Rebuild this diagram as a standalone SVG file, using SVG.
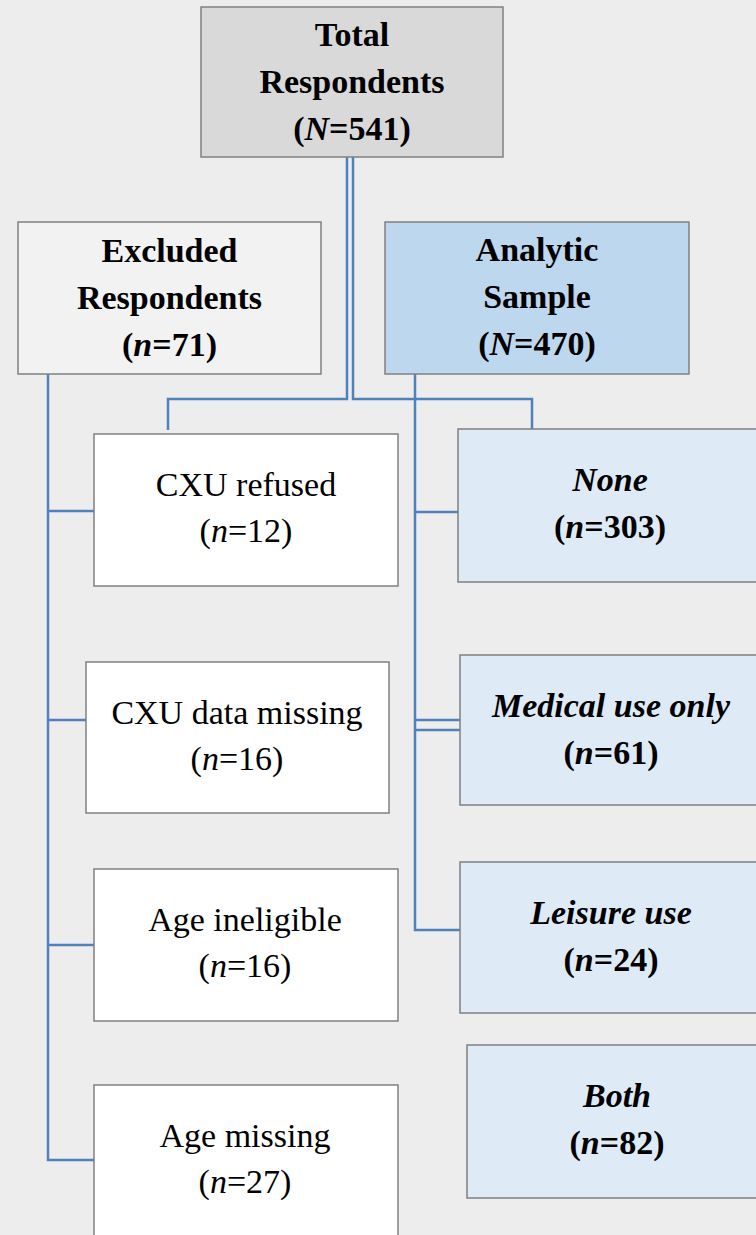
<svg xmlns="http://www.w3.org/2000/svg" width="756" height="1235" viewBox="0 0 756 1235">
<style>
.box{stroke:#808080;stroke-width:1.5}
.t{font-family:"Liberation Serif","Times New Roman",serif;font-size:34px;fill:#000;text-anchor:middle}
.b{font-weight:bold}
.i{font-style:italic}
.c{fill:none;stroke:#4f81bd;stroke-width:2.5}
</style>
<rect width="756" height="1235" fill="#ededed"/>
<g id="connectors">
<path class="c" d="M347 157V399H168V430"/>
<path class="c" d="M353 157V399H532V429"/>
<path class="c" d="M48 374V1160H94M48 511H94M48 720H86M48 945H94"/>
<path class="c" d="M415 374V930H460M415 512H458M415 720H460M415 730H460"/>
</g>
<g id="total">
<rect class="box" x="201" y="7" width="302" height="150" fill="#d9d9d9"/>
<text class="t b" x="352" y="46">Total</text>
<text class="t b" x="352" y="93">Respondents</text>
<text class="t b" x="352" y="140">(<tspan class="i">N</tspan>=541)</text>
</g>
<g id="excluded">
<rect class="box" x="18" y="222" width="303" height="152" fill="#f2f2f2"/>
<text class="t b" x="169.5" y="262">Excluded</text>
<text class="t b" x="169.5" y="309">Respondents</text>
<text class="t b" x="169.5" y="356">(<tspan class="i">n</tspan>=71)</text>
</g>
<g id="analytic">
<rect class="box" x="385" y="222" width="304" height="152" fill="#bdd7ee"/>
<text class="t b" x="537" y="261">Analytic</text>
<text class="t b" x="537" y="308">Sample</text>
<text class="t b" x="537" y="355">(<tspan class="i">N</tspan>=470)</text>
</g>
<g id="cxu-refused">
<rect class="box" x="94" y="434" width="304" height="152" fill="#ffffff"/>
<text class="t" x="246" y="496">CXU refused</text>
<text class="t" x="246" y="542">(<tspan class="i">n</tspan>=12)</text>
</g>
<g id="cxu-missing">
<rect class="box" x="86" y="662" width="303" height="151" fill="#ffffff"/>
<text class="t" x="237" y="724">CXU data missing</text>
<text class="t" x="237" y="770">(<tspan class="i">n</tspan>=16)</text>
</g>
<g id="age-ineligible">
<rect class="box" x="94" y="869" width="304" height="152" fill="#ffffff"/>
<text class="t" x="245" y="931">Age ineligible</text>
<text class="t" x="245" y="977">(<tspan class="i">n</tspan>=16)</text>
</g>
<g id="age-missing">
<rect class="box" x="94" y="1085" width="304" height="170" fill="#ffffff"/>
<text class="t" x="245" y="1147">Age missing</text>
<text class="t" x="245" y="1193">(<tspan class="i">n</tspan>=27)</text>
</g>
<g id="none">
<rect class="box" x="458" y="429" width="310" height="153" fill="#deebf7"/>
<text class="t b i" x="610" y="491">None</text>
<text class="t b" x="610" y="538">(<tspan class="i">n</tspan>=303)</text>
</g>
<g id="medical">
<rect class="box" x="460" y="655" width="310" height="150" fill="#deebf7"/>
<text class="t b i" x="611" y="717">Medical use only</text>
<text class="t b" x="611" y="764">(<tspan class="i">n</tspan>=61)</text>
</g>
<g id="leisure">
<rect class="box" x="460" y="862" width="310" height="151" fill="#deebf7"/>
<text class="t b i" x="611" y="924">Leisure use</text>
<text class="t b" x="611" y="971">(<tspan class="i">n</tspan>=24)</text>
</g>
<g id="both">
<rect class="box" x="467" y="1045" width="310" height="153" fill="#deebf7"/>
<text class="t b i" x="617" y="1107">Both</text>
<text class="t b" x="617" y="1154">(<tspan class="i">n</tspan>=82)</text>
</g>
</svg>
